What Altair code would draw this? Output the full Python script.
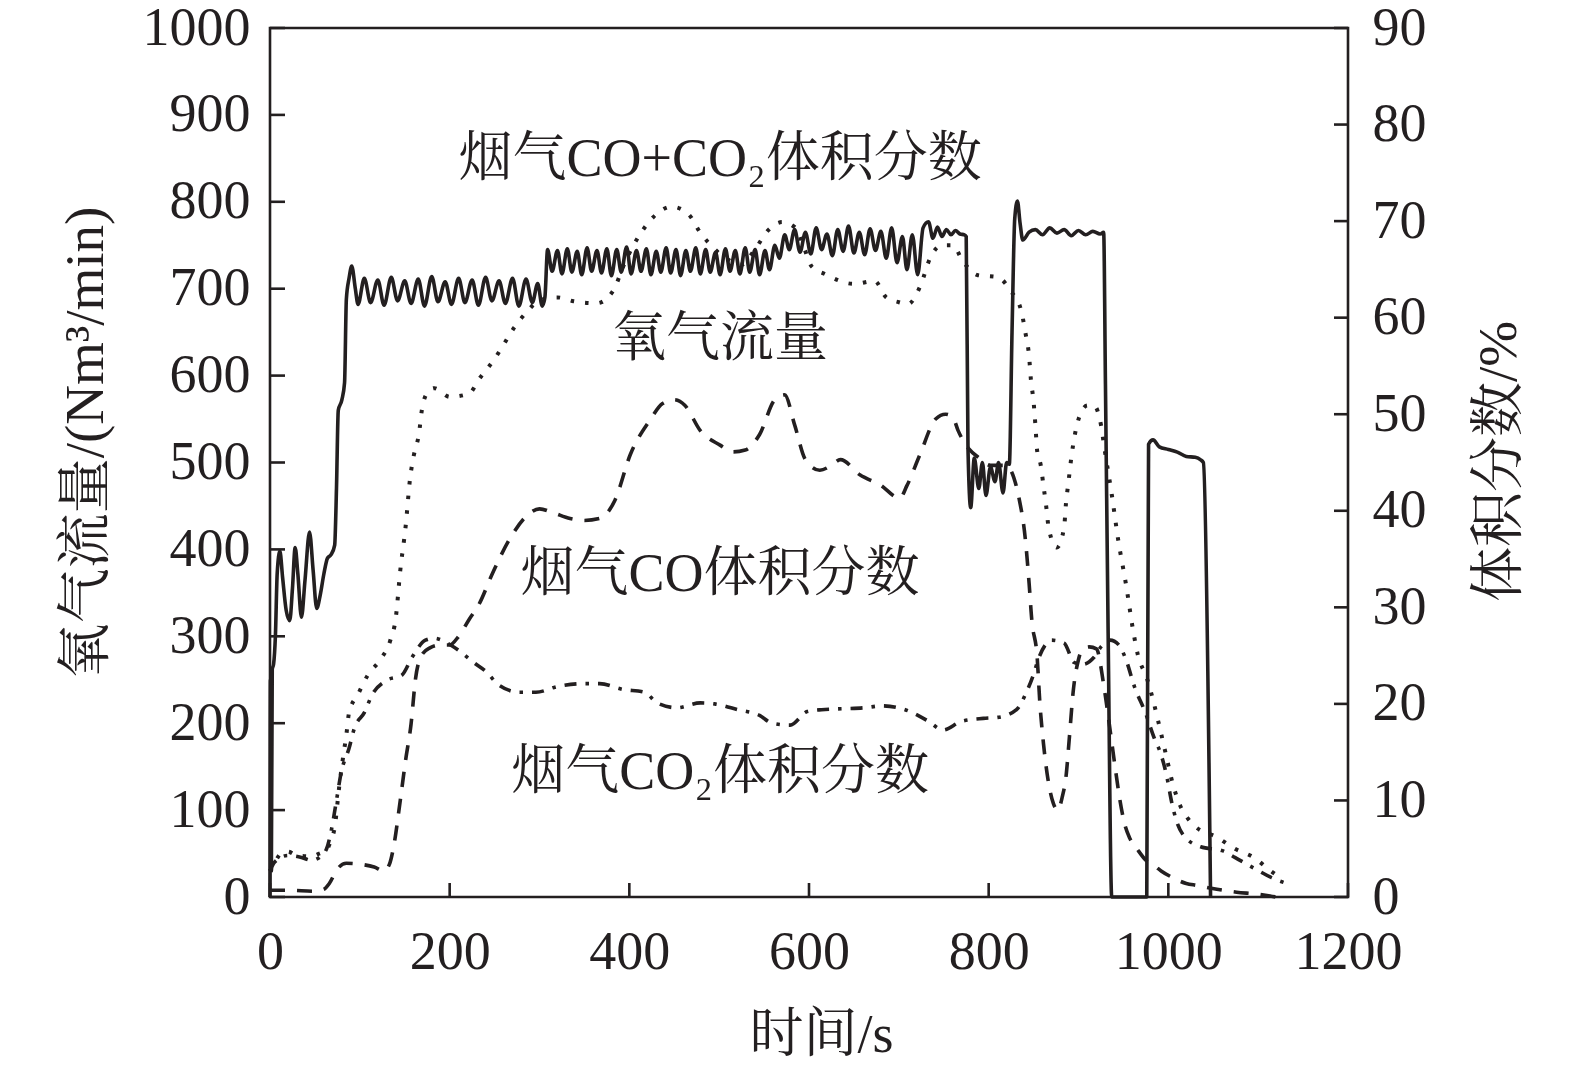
import altair as alt
import pandas as pd

# ---------------- data ----------------
# oxygen flow, Nm3/min (left axis): (time s, value)
o2_flow = [(0,0),(0.5,250),(1.5,30),(2.5,262),(4,268),(6,300),(8,372),(11,398),(14,368),(18,330),(22,318),(25,355),(28,402),(31,372),(35,322),(39,365),(44,420),(48,376),(52,332),(56,348),(60,372),(64,390),(68,394),(72,405),(74,470),(76,560),(80,572),(83,592),(85,688),(88,712),(91,726),(95,700),(98,682),
(105,712),(112,684),(120,710),(127,681),(135,713),(142,686),(150,709),(157,683),(165,711),(172,680),(180,714),(187,685),(195,708),(202,682),(210,712),(217,684),(225,710),(232,681),(240,713),(247,686),(255,709),(262,683),(270,712),(277,680),(285,711),(292,684),(298,706),(303,680),(306,690),
(309,745),(314,720),(320,744),(325,717),(331,746),(336,719),(342,743),(347,716),(353,747),(358,720),(364,744),(369,718),(375,746),(380,715),(386,745),(391,719),(397,748),(402,717),(408,744),(413,720),(419,746),(424,716),(430,743),(435,719),(441,747),(446,718),(452,745),(457,715),(463,744),(468,720),(474,747),(479,717),(485,745),(490,719),(496,742),(501,716),(507,746),(512,720),(518,744),(523,717),(529,747),(534,719),(540,745),(545,716),(551,744),(556,722),(562,750),(567,735),(573,762),(578,745),
(584,768),(590,742),(596,765),(602,740),(608,770),(614,745),(620,763),(626,738),(632,768),(638,743),(644,772),(650,741),(656,765),(662,739),(668,769),(674,744),(680,766),(686,735),(692,770),(698,730),(704,760),(709,722),(715,762),(721,716),(727,770),(733,777),(738,758),(743,771),(748,760),(753,768),(758,762),(763,767),(768,763),(773,762),
(775,760),(777,515),(780,448),(784,505),(789,470),(793,500),(797,462),(802,495),(807,478),(811,500),(816,465),(820,500),(823,498),(826,650),(829,780),(832,801),(835,775),(838,756),(845,765),(852,768),(860,762),(868,770),(876,764),(884,768),(892,761),(900,767),(908,762),(916,766),(924,763),(928,765),(930,590),(933,303),(937,0),(976,0),(978,521),(983,526),(990,518),(1000,515),(1010,512),(1020,507),(1030,506),(1036,503),(1039,500),(1047,0)]

# flue gas CO+CO2 volume fraction, % (right axis)
co_co2 = [(0,2.7),(5,3.5),(12,4.5),(20,4.7),(30,4.3),(46,4.2),(55,4.5),(63,4.9),(68,5.9),(72,7.2),(77,11.4),(82,14.9),(85,16.8),(88,19.1),(98,21.0),(109,23.0),(123,24.6),(134,26.6),(140,28.9),(145,33.8),(151,38.4),(156,43.4),(160,45.7),(166,48.1),(169,50.4),(175,52.2),(183,52.7),(200,51.8),(221,52.1),(234,53.8),(249,55.6),(260,57.2),(272,59.0),(285,60.5),(300,61.8),(320,62.1),(338,61.7),(364,61.5),(382,62.8),(395,65.7),(413,68.8),(430,70.7),(447,71.5),(466,70.7),(479,68.8),(495,67.1),(510,66.0),(525,65.5),(540,67.1),(555,69.1),(570,69.9),(585,69.3),(595,67.1),(603,65.3),(618,64.5),(650,63.5),(673,63.8),(686,62.1),(700,61.6),(710,61.4),(724,63.3),(735,66.2),(748,67.5),(760,67.5),(771,65.9),(788,64.4),(810,64.2),(825,62.7),(836,60.8),(841,58.4),(845,56.0),(847,53.6),(850,51.3),(852,48.9),(854,46.2),(858,44.7),(861,42.6),(864,40.5),(867,38.1),(876,36.2),(884,38.3),(886,40.7),(889,43.1),(892,45.5),(896,47.9),(902,50.0),(910,50.9),(917,50.9),(925,48.9),(929,46.4),(937,41.7),(944,37.1),(953,32.3),(961,27.5),(966,25.1),(976,22.7),(983,20.4),(989,18.1),(997,14.9),(1005,11.7),(1013,9.5),(1022,8.1),(1030,7.3),(1054,6.2),(1074,5.0),(1095,4.1),(1114,2.7),(1128,1.8)]

# flue gas CO volume fraction, %
co = [(0,0.7),(20,0.7),(50,0.6),(60,0.8),(66,1.4),(75,2.9),(85,3.5),(100,3.4),(116,3.1),(127,2.7),(133,3.4),(138,5.4),(145,10.0),(151,14.2),(157,17.9),(162,22.6),(168,24.9),(178,25.8),(190,26.1),(200,26.1),(210,27.0),(222,28.8),(232,30.2),(249,33.8),(267,37.1),(285,39.4),(300,40.2),(315,39.8),(334,39.2),(350,39.0),(367,39.2),(384,41.1),(401,45.8),(423,49.4),(437,51.1),(450,51.5),(462,50.9),(479,48.3),(501,46.8),(515,46.1),(529,46.3),(545,47.9),(562,51.5),(573,52.0),(584,48.9),(596,45.3),(612,44.2),(625,44.7),(635,45.3),(657,43.7),(679,42.7),(701,41.3),(709,42.6),(723,45.7),(741,49.5),(752,50.0),(760,49.7),(766,48.3),(778,46.4),(789,45.5),(802,44.7),(819,44.7),(834,41.2),(841,36.9),(845,32.5),(848,28.7),(854,24.8),(857,20.1),(861,15.9),(866,12.2),(872,9.7),(877,9.0),(882,10.4),(886,12.4),(890,16.7),(894,21.2),(900,24.6),(905,25.7),(912,25.9),(920,25.7),(928,22.0),(934,18.1),(941,13.3),(946,10.1),(951,7.7),(957,6.1),(965,5.0),(975,3.8),(985,3.2),(992,2.7),(1005,2.0),(1020,1.4),(1032,1.2),(1054,0.8),(1076,0.5),(1098,0.3),(1120,0.0)]

# flue gas CO2 volume fraction, %
co2 = [(0,2.7),(5,3.6),(20,4.3),(35,4.1),(46,3.8),(55,4.1),(63,5.0),(68,6.8),(74,10.0),(79,12.8),(88,15.4),(94,17.5),(105,19.1),(114,21.0),(129,22.4),(147,23.0),(158,24.8),(173,26.6),(182,26.8),(201,26.1),(212,25.4),(228,24.2),(241,23.3),(254,22.0),(278,21.2),(296,21.2),(320,21.8),(349,22.1),(367,22.1),(393,21.5),(417,21.2),(431,20.1),(453,19.6),(479,20.1),(495,20.0),(521,19.4),(545,18.8),(559,18.0),(579,17.8),(598,19.2),(614,19.4),(638,19.5),(662,19.6),(681,19.8),(707,19.4),(733,18.2),(749,17.3),(770,18.2),(794,18.5),(810,18.6),(831,19.4),(842,21.2),(849,22.8),(856,24.8),(863,26.1),(870,26.6),(884,26.3),(895,24.3),(905,24.1),(917,24.8),(925,25.9),(935,26.6),(945,26.1),(952,24.8),(963,21.6),(974,19.2),(985,16.3),(991,15.0),(998,12.6),(1004,9.7),(1009,7.9),(1016,6.5),(1036,5.2),(1060,4.8),(1074,4.1),(1095,3.0),(1115,2.0),(1135,1.3)]

x_ticks = [0, 200, 400, 600, 800, 1000, 1200]
left_ticks = [0, 100, 200, 300, 400, 500, 600, 700, 800, 900, 1000]
right_ticks = [0, 10, 20, 30, 40, 50, 60, 70, 80, 90]

labels = ["烟气CO+CO₂体积分数", "氧气流量", "烟气CO体积分数", "烟气CO₂体积分数"]
label_t = [501, 501, 501, 501]
label_v = [848, 641, 371, 143]

# ---------------- build ----------------
W, H = 1078, 869
FONT = "Liberation Serif, Times New Roman, Noto Serif CJK SC, Noto Sans CJK SC, serif"
ink = "#231f20"

df_o2 = pd.DataFrame(o2_flow, columns=["t", "v"])
df_cc = pd.DataFrame(co_co2, columns=["t", "p"])
df_co = pd.DataFrame(co, columns=["t", "p"])
df_co2 = pd.DataFrame(co2, columns=["t", "p"])
df_xt = pd.DataFrame({"t": x_ticks})
df_lt = pd.DataFrame({"v": left_ticks})
df_rt = pd.DataFrame({"p": right_ticks})
df_lab = pd.DataFrame({"label": labels, "t": label_t, "v": label_v})

xscale = alt.Scale(domain=[0, 1200], nice=False, zero=False)
lscale = alt.Scale(domain=[0, 1000], nice=False)
rscale = alt.Scale(domain=[0, 90], nice=False)

xaxis = alt.Axis(values=x_ticks, format="d", tickSize=0, domain=False, grid=False,
                 labelFlush=False, labelOverlap=False,
                 labelFont=FONT, labelFontSize=54, labelColor=ink, labelPadding=28,
                 title="时间/s", titleFont=FONT, titleFontSize=54, titleFontWeight="normal",
                 titleColor=ink, titleX=551, titleY=138, titleBaseline="middle")
laxis = alt.Axis(values=left_ticks, format="d", tickSize=0, domain=False, grid=False,
                 labelFlush=False, labelOverlap=False,
                 labelFont=FONT, labelFontSize=54, labelColor=ink, labelPadding=20,
                 title="氧气流量/(Nm³/min)", titleFont=FONT, titleFontSize=55,
                 titleFontWeight="normal", titleColor=ink,
                 titleX=-185, titleY=414, titleBaseline="middle")
raxis = alt.Axis(values=right_ticks, format="d", tickSize=0, domain=False, grid=False,
                 orient="right", labelFlush=False, labelOverlap=False,
                 labelFont=FONT, labelFontSize=54, labelColor=ink, labelPadding=24,
                 title="体积分数/%", titleFont=FONT, titleFontSize=55,
                 titleFontWeight="normal", titleColor=ink, titleAngle=270,
                 titleX=150, titleY=433, titleBaseline="middle")


def X():
    return alt.X("t:Q", scale=xscale, axis=xaxis)


o2_line = alt.Chart(df_o2).mark_line(color=ink, strokeWidth=3.6, strokeJoin="round",
                                     interpolate="monotone").encode(
    x=X(),
    y=alt.Y("v:Q", scale=lscale, axis=laxis),
)

left_tick_marks = alt.Chart(df_lt).mark_rule(color=ink, strokeWidth=2.6).encode(
    x=alt.value(0), x2=alt.value(15),
    y=alt.Y("v:Q", scale=lscale, axis=laxis),
)

bottom_tick_marks = alt.Chart(df_xt).mark_rule(color=ink, strokeWidth=2.6).encode(
    x=X(),
    y=alt.value(H), y2=alt.value(H - 14),
)

ann = alt.Chart(df_lab).mark_text(font=FONT, fontSize=54, color=ink, align="center",
                                  baseline="middle").encode(
    x=X(),
    y=alt.Y("v:Q", scale=lscale, axis=laxis),
    text="label:N",
)

cc_line = alt.Chart(df_cc).mark_line(color=ink, strokeWidth=4, strokeDash=[3.5, 11],
                                     interpolate="monotone").encode(
    x=X(),
    y=alt.Y("p:Q", scale=rscale, axis=raxis),
)
co_line = alt.Chart(df_co).mark_line(color=ink, strokeWidth=3.6, strokeDash=[15, 12],
                                     interpolate="monotone").encode(
    x=X(),
    y=alt.Y("p:Q", scale=rscale, axis=raxis),
)
co2_line = alt.Chart(df_co2).mark_line(color=ink, strokeWidth=3.6, strokeDash=[12, 9, 3.5, 9],
                                       interpolate="monotone").encode(
    x=X(),
    y=alt.Y("p:Q", scale=rscale, axis=raxis),
)
right_tick_marks = alt.Chart(df_rt).mark_rule(color=ink, strokeWidth=2.6).encode(
    x=alt.value(W - 14), x2=alt.value(W),
    y=alt.Y("p:Q", scale=rscale, axis=raxis),
)

left_group = alt.layer(o2_line, left_tick_marks, bottom_tick_marks, ann)
right_group = alt.layer(cc_line, co_line, co2_line, right_tick_marks)

chart = alt.layer(left_group, right_group).resolve_scale(y="independent").properties(
    width=W, height=H,
    padding={"left": 262, "top": 20, "right": 200, "bottom": 170},
    autosize=alt.AutoSizeParams(type="none"),
    background="white",
).configure_view(stroke=ink, strokeWidth=2.6)

chart.save("out.html", embed_options={"renderer": "svg", "actions": False})
